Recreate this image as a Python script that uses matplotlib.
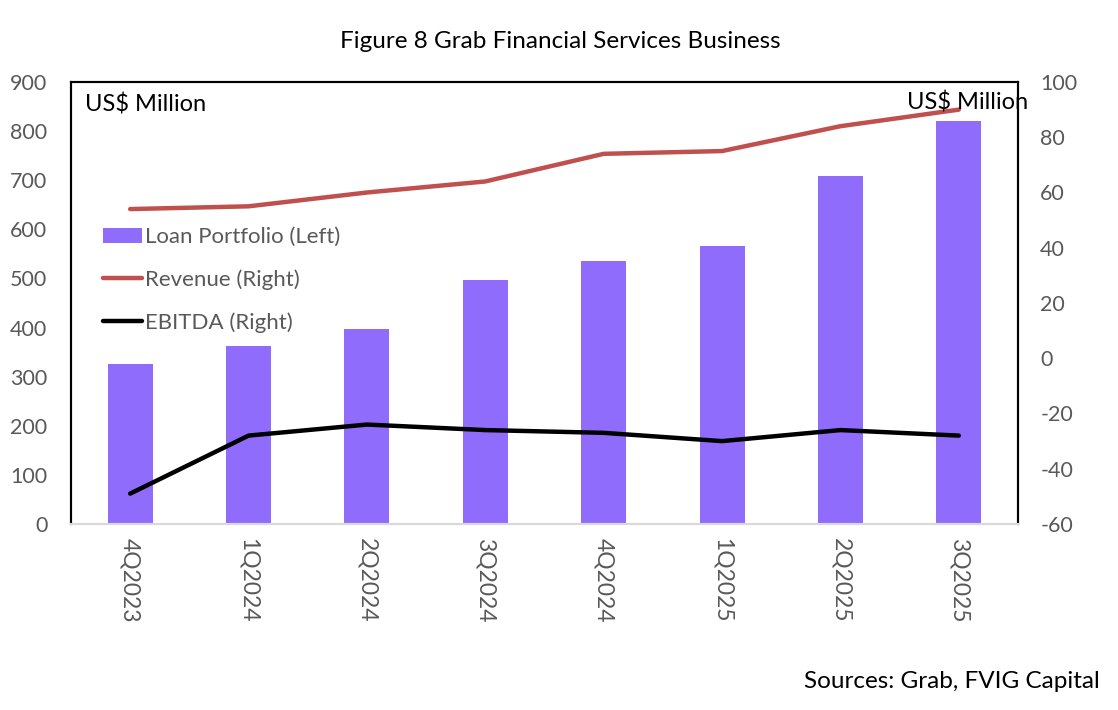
import matplotlib
matplotlib.use("Agg")
import matplotlib.pyplot as plt
from matplotlib.patches import Patch
from matplotlib.lines import Line2D

plt.rcParams['font.family'] = ['Lato', 'DejaVu Sans']
plt.rcParams['axes.unicode_minus'] = False

categories = ["4Q2023", "1Q2024", "2Q2024", "3Q2024", "4Q2024", "1Q2025", "2Q2025", "3Q2025"]
loan_portfolio = [326, 362, 397, 497, 535, 566, 709, 821]
revenue = [54, 55, 60, 64, 74, 75, 84, 90]
ebitda = [-49, -28, -24, -26, -27, -30, -26, -28]

bar_color = "#8F6CFC"
rev_color = "#C0504D"
ebitda_color = "#000000"
tick_color = "#595959"

fig = plt.figure(figsize=(11.18, 7.10), dpi=100)
ax = fig.add_axes([71/1118, 1 - 524/710, (1018-71)/1118, (524-82)/710])
ax2 = ax.twinx()

x = list(range(len(categories)))
ax.bar(x, loan_portfolio, width=0.38, color=bar_color, zorder=2)
ax.set_xlim(-0.5, len(categories) - 0.5)
ax.set_ylim(0, 900)
ax.set_yticks(range(0, 901, 100))
ax.set_xticks(x)
ax.set_xticklabels(categories, rotation=270, fontsize=16.5, color=tick_color)
ax.tick_params(axis='x', length=0, pad=10)
ax.tick_params(axis='y', length=0, pad=17, labelsize=15.5, labelcolor=tick_color)

ax2.plot(x, revenue, color=rev_color, lw=3.2, solid_capstyle='round', solid_joinstyle='round', zorder=3)
ax2.plot(x, ebitda, color=ebitda_color, lw=3.2, solid_capstyle='round', solid_joinstyle='round', zorder=3)
ax2.set_ylim(-60, 100)
ax2.set_yticks(range(-60, 101, 20))
ax2.tick_params(axis='y', length=0, pad=16, labelsize=15.5, labelcolor=tick_color)

for a in (ax, ax2):
    for s in ('left', 'right', 'top'):
        a.spines[s].set_color('black')
        a.spines[s].set_linewidth(1.5)
    a.spines['bottom'].set_color('#D9D9D9')
    a.spines['bottom'].set_linewidth(1.5)

handles = [Patch(facecolor=bar_color, edgecolor='none'),
           Line2D([0], [0], color=rev_color, lw=3.2, solid_capstyle='round'),
           Line2D([0], [0], color=ebitda_color, lw=3.2, solid_capstyle='round')]
labels = ["Loan Portfolio (Left)", "Revenue (Right)", "EBITDA (Right)"]
leg = ax2.legend(handles, labels, loc='upper left', bbox_to_anchor=(92/1118, 1 - 216/710),
                 bbox_transform=fig.transFigure, frameon=False, fontsize=16,
                 handlelength=1.75, handletextpad=0.15, labelspacing=1.0, borderpad=0)
for t in leg.get_texts():
    t.set_color(tick_color)

fig.text(560/1118, 1 - 42/710, "Figure 8 Grab Financial Services Business", ha='center', va='center',
         fontsize=17.5, color='black')
fig.text(85/1118, 1 - 104/710, "US$ Million", ha='left', va='center', fontsize=17, color='black')
fig.text(1028/1118, 1 - 102/710, "US$ Million", ha='right', va='center', fontsize=17, color='black')
fig.text(1100/1118, 1 - 682/710, "Sources: Grab, FVIG Capital", ha='right', va='center',
         fontsize=17.5, color='black')

fig.savefig("out.png", dpi=100)
